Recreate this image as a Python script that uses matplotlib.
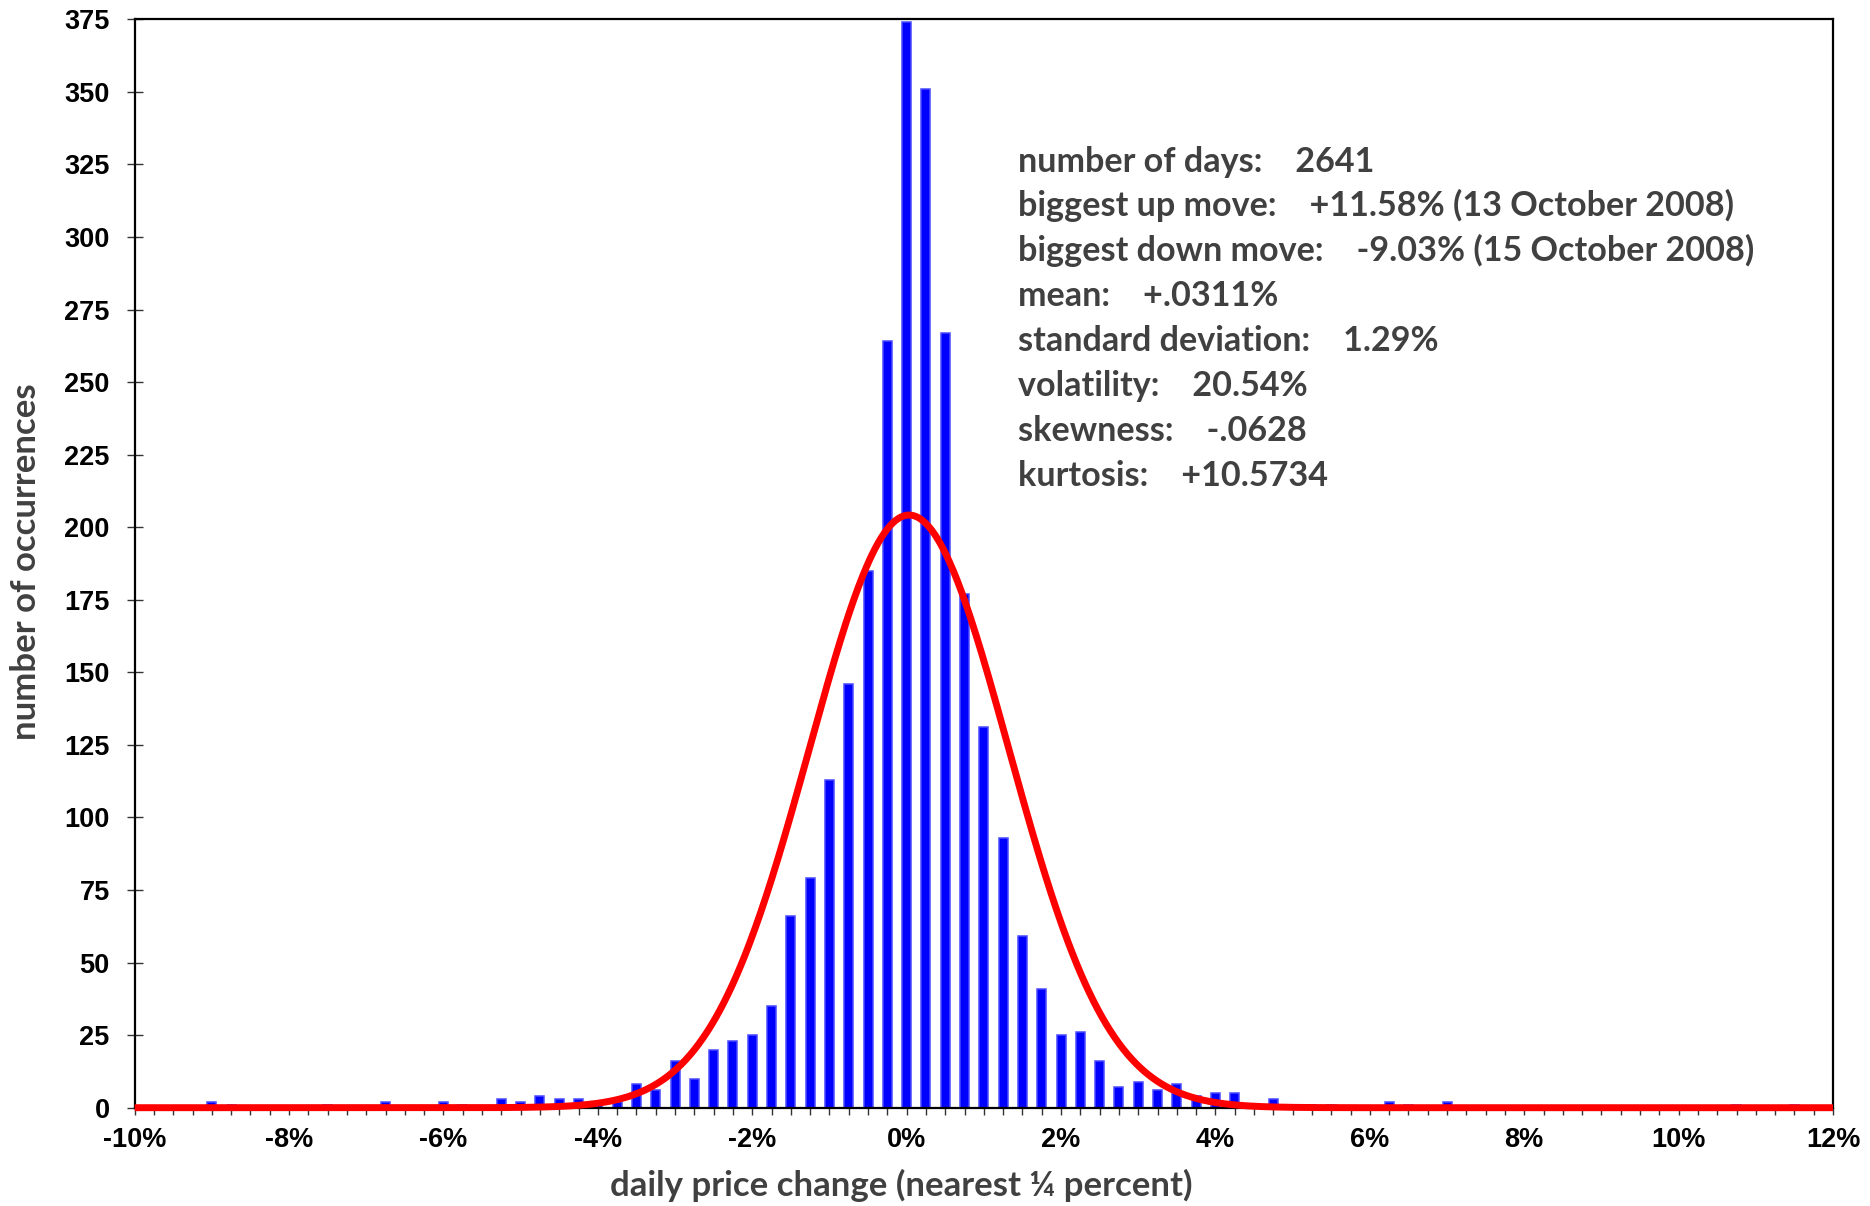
import numpy as np
import matplotlib
matplotlib.use("Agg")
import matplotlib.pyplot as plt
from matplotlib.ticker import MultipleLocator, FuncFormatter

# histogram of daily price changes (nearest 1/4 percent), non-empty bins only
change_pct = [-9.0, -8.75, -7.5, -6.75, -6.0, -5.75,
              -5.25, -5.0, -4.75, -4.5, -4.25, -4.0, -3.75,
              -3.5, -3.25, -3.0, -2.75, -2.5, -2.25, -2.0,
              -1.75, -1.5, -1.25, -1.0, -0.75, -0.5, -0.25,
              0.0, 0.25, 0.5, 0.75, 1.0, 1.25, 1.5, 1.75, 2.0,
              2.25, 2.5, 2.75, 3.0, 3.25, 3.5, 3.75, 4.0, 4.25, 4.5, 4.75,
              5.25, 5.5, 6.25, 6.5, 7.0, 10.75, 11.5]
occurrences = [2, 1, 1, 2, 2, 1,
               3, 2, 4, 3, 3, 2, 2,
               8, 6, 16, 10, 20, 23, 25,
               35, 66, 79, 113, 146, 185, 264,
               374, 351, 267, 177, 131, 93, 59, 41, 25,
               26, 16, 7, 9, 6, 8, 4, 5, 5, 1, 3,
               1, 1, 2, 1, 2, 1, 1]

# summary statistics shown on the chart
n_days = 2641
mean_pct = 0.0311
std_pct = 1.29
bin_width = 0.25

stats_lines = [
    "number of days:    2641",
    "biggest up move:    +11.58% (13 October 2008)",
    "biggest down move:    -9.03% (15 October 2008)",
    "mean:    +.0311%",
    "standard deviation:    1.29%",
    "volatility:    20.54%",
    "skewness:    -.0628",
    "kurtosis:    +10.5734",
]

W, H = 1870, 1206
fig = plt.figure(figsize=(W / 100, H / 100), dpi=100)
ax = fig.add_axes([134.7 / W, 1 - 1107.7 / H, (1833 - 134.7) / W, (1107.7 - 19.3) / H])

# bars with a thin lighter outline, like the original chart
ax.bar(change_pct, occurrences, width=0.117, color="#0000ff",
       edgecolor="#4a4aff", linewidth=1.1, zorder=2)

# normal curve with the same mean / sd, scaled to the counts
xs = np.linspace(-10, 12, 1200)
pdf = np.exp(-0.5 * ((xs - mean_pct) / std_pct) ** 2) / (std_pct * np.sqrt(2 * np.pi))
ax.plot(xs, n_days * bin_width * pdf, color="#ff0000", lw=5.0, zorder=3,
        solid_capstyle="butt", clip_on=False)

ax.set_xlim(-10, 12)
ax.set_ylim(0, 375)
ax.xaxis.set_major_locator(MultipleLocator(2))
ax.xaxis.set_minor_locator(MultipleLocator(0.25))
ax.yaxis.set_major_locator(MultipleLocator(25))
ax.xaxis.set_major_formatter(FuncFormatter(lambda v, p: f"{int(round(v))}%".replace("\u2212", "-")))

for s in ax.spines.values():
    s.set_linewidth(1.6)
    s.set_color("black")

tick_font = {"family": "Liberation Sans", "weight": "bold", "size": 19.5}
ax.tick_params(axis="x", which="both", direction="out", length=5, width=1, color="#333333", pad=9)
ax.tick_params(axis="y", which="major", direction="inout", length=12, width=1, color="#333333", pad=12)
for lab in ax.get_xticklabels() + ax.get_yticklabels():
    lab.set_fontproperties(matplotlib.font_manager.FontProperties(**tick_font))

label_color = "#404040"
fig.text(901 / W, 1 - 1196 / H, "daily price change (nearest \u00bc percent)",
         ha="center", va="baseline", fontsize=25, fontweight="bold",
         family="Lato", color=label_color)
fig.text(10 / W, 1 - 562 / H, "number of occurrences", rotation=90,
         ha="left", va="center", fontsize=25, fontweight="bold",
         family="Lato", color=label_color)

for i, line in enumerate(stats_lines):
    fig.text(1018.5 / W, 1 - (171.5 + i * 44.9) / H, line,
             ha="left", va="baseline", fontsize=24.6, fontweight="bold",
             family="Lato", color=label_color)

fig.savefig("out.png", dpi=100)
